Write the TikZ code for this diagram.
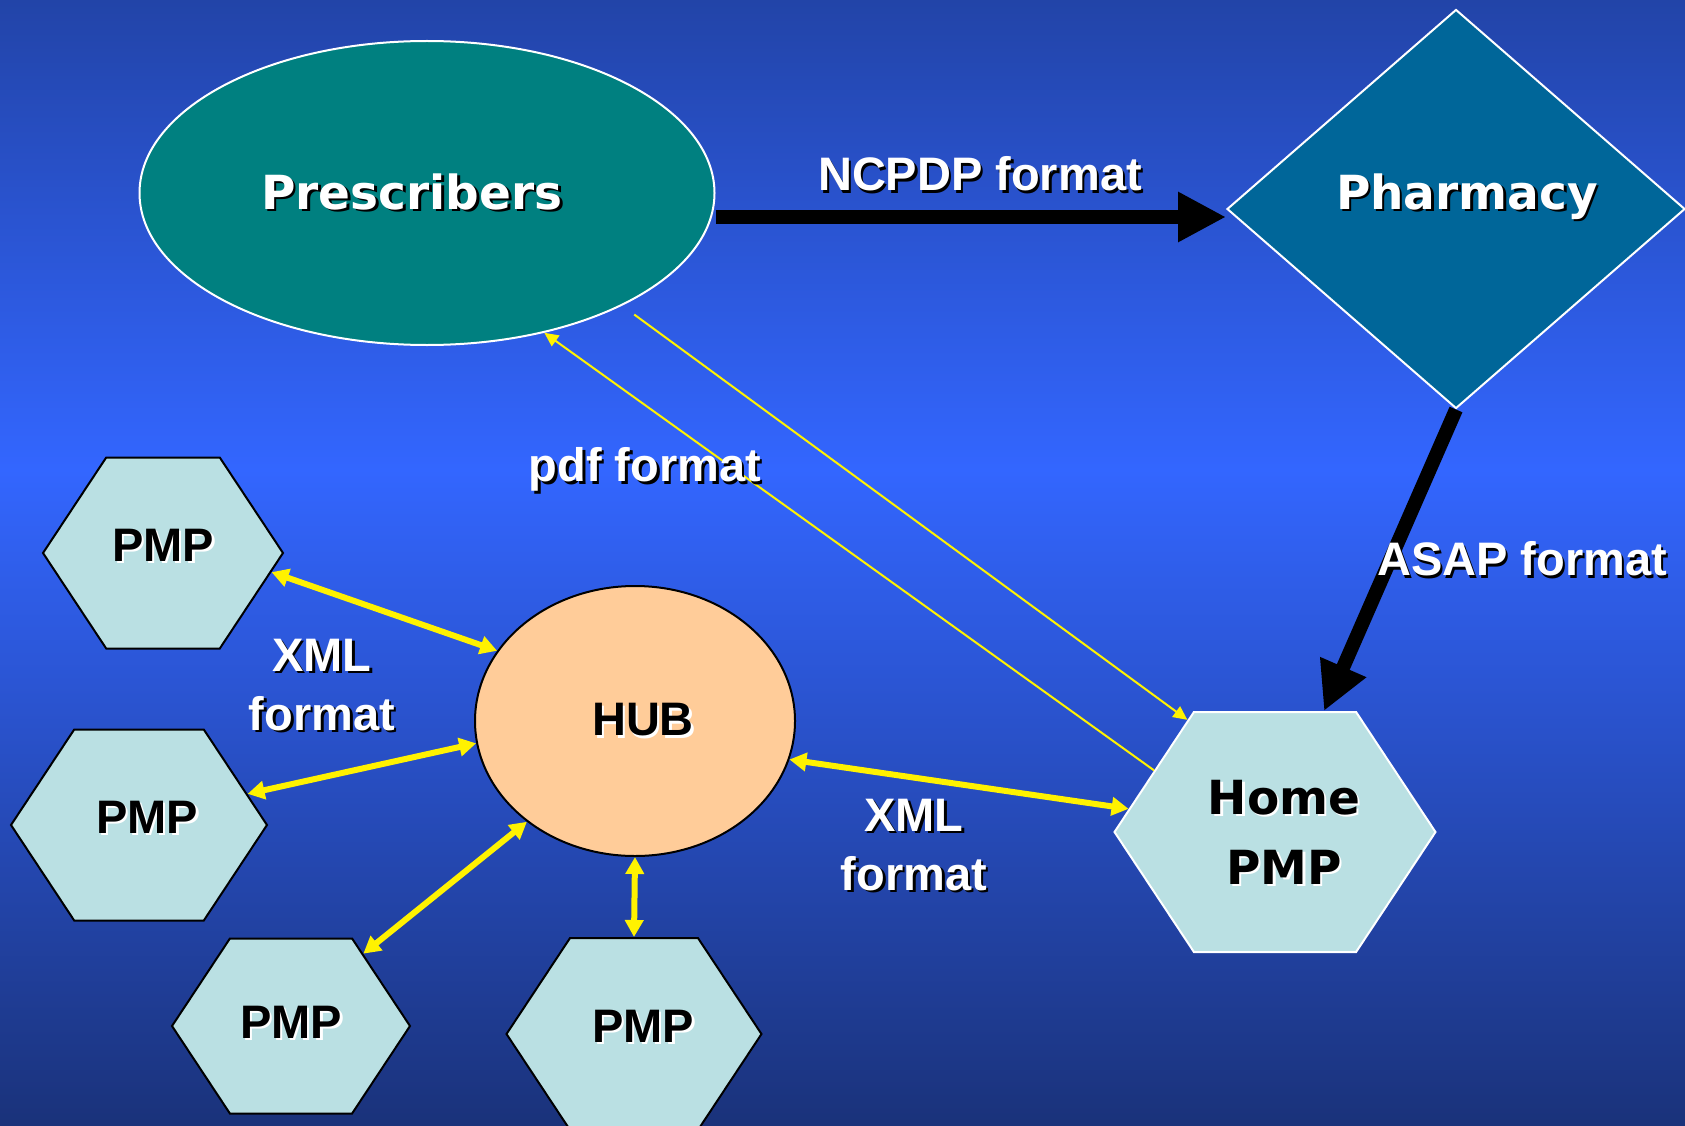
\documentclass[tikz,border=0pt]{standalone}
\usepackage{fontspec}
\setmainfont{Liberation Sans}
\newfontfamily\verd{DejaVu Sans}
\usetikzlibrary{shapes.geometric,shapes.symbols,arrows.meta}

\definecolor{bgtop}{RGB}{34,68,168}
\definecolor{bgmid}{RGB}{51,102,255}
\definecolor{bgbot}{RGB}{26,50,122}
\definecolor{presfill}{RGB}{0,128,128}
\definecolor{pharmfill}{RGB}{0,102,153}
\definecolor{hexfill}{RGB}{186,224,227}
\definecolor{hubfill}{RGB}{255,204,153}

\newcommand\shtxt[3]{\leavevmode\rlap{\kern2.5pt\raisebox{-2.5pt}{\color{#2}#3}}{\color{#1}#3}}
\newcommand\wtxt[1]{\shtxt{white}{black}{#1}}
\newcommand\btxt[1]{\shtxt{black}{white}{#1}}
\newcommand\sx[2]{\leavevmode\kern#1\relax#2\kern-#1\relax}

\tikzset{
	bigfont/.style={font=\fontsize{47}{59}\selectfont\bfseries},
	hexa/.style={signal, signal to=east and west, signal pointer angle=113,
		draw=black, line width=2pt, fill=hexfill, inner sep=0pt, bigfont, text depth=16pt},
	lbl/.style={bigfont, align=center, inner sep=0pt},
	fatarr/.style={line width=14pt, -{Triangle[length=48pt,width=47pt]}},
	yelarr/.style={yellow, line width=6pt, {Triangle[length=17pt,width=18pt]}-{Triangle[length=17pt,width=18pt]}},
	thinarr/.style={yellow, line width=2pt, -{Triangle[length=14pt,width=13pt]}},
}

\begin{document}
\begin{tikzpicture}[x=1pt,y=-1pt]
	\useasboundingbox (0,0) rectangle (1685,1126);
	\shade[top color=bgtop, bottom color=bgmid] (0,0) rectangle (1685,470);
	\shade[top color=bgmid, bottom color=bgbot] (0,469) rectangle (1685,1126);

	\node[ellipse, draw=white, line width=2pt, fill=presfill, minimum width=575pt, minimum height=304pt,
		inner sep=0pt, font=\fontsize{47}{56}\verd\bfseries] (pres) at (427,193) {\sx{-15pt}{\wtxt{Prescribers}}};
	\node[diamond, draw=white, line width=2pt, fill=pharmfill, minimum width=458pt, minimum height=399pt,
		inner sep=0pt, text depth=35pt, font=\fontsize{47}{56}\verd\bfseries] (pharm) at (1456,209) {\sx{11pt}{\wtxt{Pharmacy}}};
	\node[hexa, draw=white, minimum width=321pt, minimum height=240pt, text depth=0pt, align=center,
		font=\fontsize{47}{70}\verd\bfseries] (home) at (1275,832) {\sx{9pt}{\btxt{Home}}\\\sx{9pt}{\btxt{PMP}}};
	\node[ellipse, draw=black, line width=2pt, fill=hubfill, minimum width=320pt, minimum height=270pt,
		inner sep=0pt, bigfont] (hub) at (635,721) {\sx{8pt}{\btxt{HUB}}};

	\node[hexa, minimum width=240pt, minimum height=191pt] (pmpa) at (163,553) {\btxt{PMP}};
	\node[hexa, minimum width=256pt, minimum height=191pt] (pmpb) at (139,825) {\sx{8pt}{\btxt{PMP}}};
	\node[hexa, minimum width=238pt, minimum height=175pt, text depth=8pt] (pmpc) at (291,1026) {\btxt{PMP}};
	\node[hexa, minimum width=255pt, minimum height=192pt] (pmpd) at (634,1034) {\sx{9pt}{\btxt{PMP}}};

	\draw[fatarr] ([yshift=-24pt]pres.east) -- ([yshift=-24pt]pres.east -| pharm.west);
	\draw[fatarr] (pharm.south) -- ([xshift=49pt]home.north);

	\draw[thinarr] (home.153) -- (pres.-50);
	\draw[thinarr, shorten <=15pt] (pres.-30) -- (home.128);

	\draw[yelarr] (pmpa.-10) -- (hub.153);
	\draw[yelarr] (pmpb.16) -- (hub.188);
	\draw[yelarr] (pmpc.45) -- (hub.223);
	\draw[yelarr] (pmpd.north) -- (hub.south);
	\draw[yelarr] (hub.-14) -- (home.171);
	%\draw[yelarr] (hub.east) -- (home.west);

	\node[lbl] (ncpdp) at (980,175) {\wtxt{NCPDP format}};
	\node[lbl] (asap) at (1522,560) {\wtxt{ASAP format}};
	\node[lbl] (pdf) at (645,471) {\wtxt{pdf format}};
	\node[lbl] (xmla) at (322,686) {\wtxt{XML}\\\wtxt{format}};
	\node[lbl] (xmlb) at (914,846) {\wtxt{XML}\\\wtxt{format}};
\end{tikzpicture}
\end{document}
